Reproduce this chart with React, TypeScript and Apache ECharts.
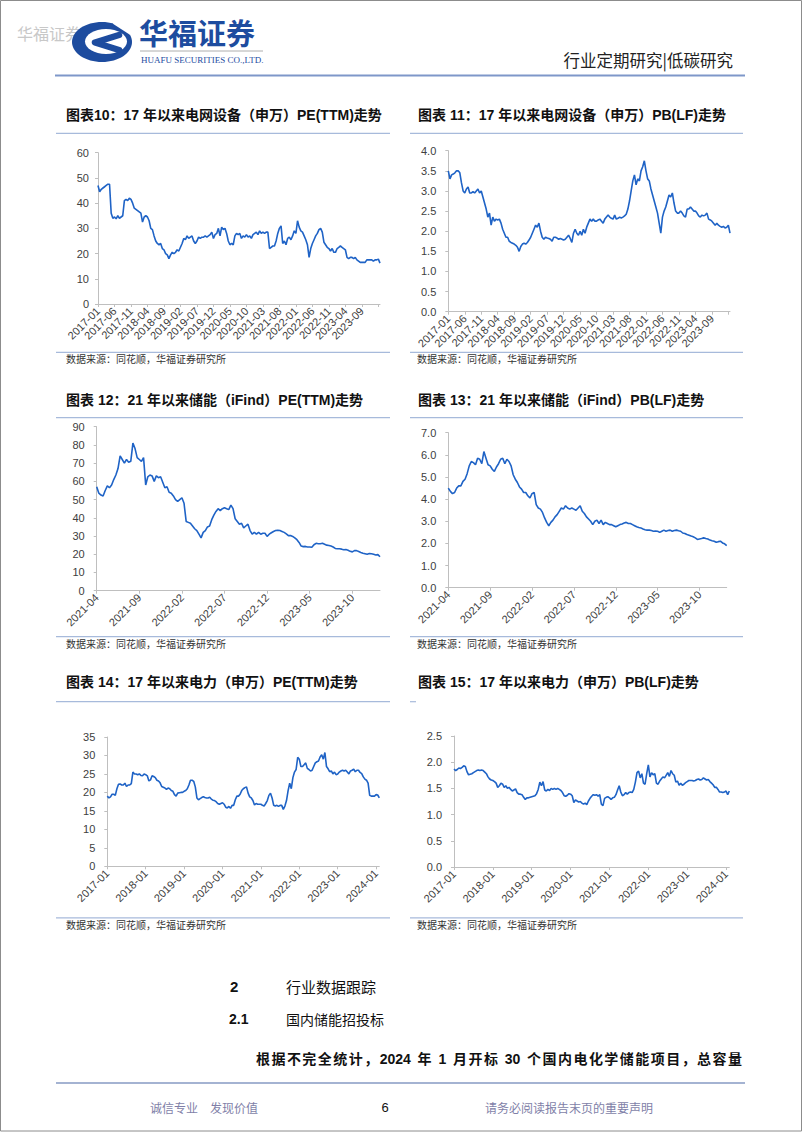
import React, { useEffect, useRef } from 'react';
import * as echarts from 'echarts';

// ---- tick labels ----
const TICKS_17_5M = ['2017-01','2017-06','2017-11','2018-04','2018-09','2019-02','2019-07','2019-12','2020-05','2020-10','2021-03','2021-08','2022-01','2022-06','2022-11','2023-04','2023-09'];
const TICKS_21_5M = ['2021-04','2021-09','2022-02','2022-07','2022-12','2023-05','2023-10'];
const TICKS_17_12M = ['2017-01','2018-01','2019-01','2020-01','2021-01','2022-01','2023-01','2024-01'];

// ---- series values (semi-monthly samples from 2017-01) ----
const GRID_EQUIP_PE = [
  47, 44.5, 45.5, 46, 46.5, 47, 47.5, 47.5,
  36, 34, 34.5, 33.8, 35, 34, 34.5, 35,
  41, 41.5, 41, 42, 41.5, 40, 38, 37.5,
  37, 36.5, 36, 32.5, 34.5, 35, 34.5, 33,
  30, 29.5, 27, 25, 24, 23.5, 24, 22,
  21.5, 20, 19.5, 18, 19.5, 20.5, 20, 20.5,
  21.5, 21, 22.5, 24, 26, 25.5, 27, 26,
  26.5, 27, 25, 24, 25, 26.5, 26, 26.5,
  26.5, 27, 26.5, 27, 27.5, 28.5, 26, 27.5,
  28, 30, 27, 30.5, 29.5, 30, 28, 25,
  23.5, 24, 23.5, 27, 28, 27.5, 28, 26,
  27, 26.5, 27.5, 26.5, 27, 26, 27.5, 28,
  28.5, 27.5, 29, 28, 28.5, 28, 28.5, 28.5,
  22, 22.5, 23, 23, 25, 28, 30, 31,
  24, 25, 23.5, 26, 26.5, 25.5, 27, 29,
  28, 33, 30.5, 29, 28.5, 27, 25.5, 23.5,
  18.5, 22, 24, 25.5, 27, 28, 29.5, 30,
  28.5, 24.5, 23.5, 22.5, 22, 21, 22, 20.5,
  20.5, 22, 22.5, 23, 22.5, 22, 21.5, 18.5,
  18, 18.5, 18.5, 18, 18.5, 17.5, 17, 16.5,
  16.5, 16.5, 16.5, 17.5, 17.5, 17.5, 17.5, 17,
  17.5, 17.5, 17.8, 16.2,
];

const GRID_EQUIP_PB = [
  3.5, 3.3, 3.4, 3.42, 3.45, 3.5, 3.5, 3.45,
  3.2, 3.0, 2.95, 3.05, 3.1, 2.95, 2.95, 2.98,
  2.95, 3.0, 3.05, 2.95, 3.0, 2.85, 2.7, 2.55,
  2.35, 2.45, 2.15, 2.35, 2.25, 2.3, 2.28, 2.3,
  2.2, 2.05, 1.95, 1.85, 1.85, 1.75, 1.72, 1.7,
  1.68, 1.65, 1.6, 1.5, 1.62, 1.68, 1.7, 1.68,
  1.72, 1.78, 1.85, 1.95, 2.05, 2.15, 2.1, 2.2,
  2.0, 1.85, 1.8, 1.85, 1.83, 1.82, 1.8, 1.75,
  1.85, 1.85, 1.83, 1.8, 1.82, 1.8, 1.78, 1.8,
  1.85, 1.9, 1.82, 1.72, 1.95, 2.05, 1.95, 1.9,
  2.0, 1.9, 2.05, 1.95, 2.1, 2.2, 2.3, 2.25,
  2.3, 2.25, 2.25, 2.28, 2.3, 2.25, 2.2, 2.3,
  2.35, 2.4, 2.35, 2.32, 2.3, 2.4, 2.3, 2.32,
  2.35, 2.33, 2.35, 2.38, 2.42, 2.55, 2.75, 3.0,
  3.25, 3.4, 3.15, 3.3, 3.25, 3.5, 3.6, 3.75,
  3.5, 3.3, 3.25, 3.05, 2.9, 2.75, 2.6, 2.45,
  2.2, 1.95, 2.35, 2.5, 2.6, 2.75, 2.9, 2.85,
  2.95, 2.7, 2.5, 2.45, 2.45, 2.5, 2.45, 2.38,
  2.35, 2.55, 2.55, 2.6, 2.55, 2.5, 2.5, 2.45,
  2.38, 2.35, 2.4, 2.38, 2.4, 2.45, 2.3, 2.28,
  2.25, 2.2, 2.15, 2.2, 2.15, 2.12, 2.1, 2.12,
  2.08, 2.1, 2.15, 1.95,
];

// ---- storage (quarter-monthly samples from 2021-04) ----
const STORAGE_PE = [
  57, 53.5, 52.5, 52, 55, 57.5, 56.5, 58, 61, 63.5,
  67, 74, 72, 70, 72, 70.5, 71, 81, 78, 73,
  72, 71, 73, 58, 62.5, 63.5, 63, 60, 63, 62,
  62.5, 59.5, 56.5, 57, 54, 53.5, 52, 50, 49, 50,
  51, 48, 38, 37.5, 37, 35.5, 34, 33, 31, 29,
  32, 33, 35, 35.5, 39, 41.5, 43.5, 45, 44, 45,
  45.5, 45, 44.5, 47, 45, 39.5, 38, 36.5, 37, 34.5,
  35.5, 36.5, 33, 31, 32, 31, 32, 31, 31.5, 31.5,
  29.8, 31, 31.8, 32.5, 33, 33.2, 33, 32.5, 32, 31.2,
  30.2, 30.3, 29.8, 29, 28, 26.5, 24.5, 24.2, 24.3, 24,
  24, 23.8, 25.2, 26, 25.8, 25.8, 26, 25.5, 25, 24.8,
  24.5, 24, 23.2, 23, 23, 22.8, 22.5, 22.6, 22.2, 21.6,
  21.3, 22, 22, 21.5, 21, 20.6, 20.3, 20, 20.4, 20.3,
  20, 19.6, 19.8, 18.6,
];

const STORAGE_PB = [
  4.5, 4.35, 4.25, 4.3, 4.5, 4.6, 4.6, 4.8, 4.9, 5.15,
  5.5, 5.7, 5.65, 5.55, 5.85, 5.8, 5.6, 6.15, 5.85, 5.55,
  5.5, 5.35, 5.25, 5.45, 5.6, 5.8, 5.85, 5.6, 5.8, 5.7,
  5.5, 5.1, 4.9, 4.75, 4.55, 4.45, 4.3, 4.3, 4.15, 4.05,
  4.25, 4.3, 3.75, 3.6, 3.55, 3.4, 3.15, 2.95, 2.8, 2.95,
  3.05, 3.2, 3.3, 3.45, 3.6, 3.55, 3.7, 3.6, 3.55, 3.6,
  3.55, 3.5, 3.6, 3.7, 3.45, 3.35, 3.2, 3.1, 3.0, 2.85,
  3.0, 3.05, 2.9, 3.05, 2.85, 2.95, 2.9, 2.85, 2.85, 2.8,
  2.75, 2.8, 2.85, 2.88, 2.92, 2.95, 2.9, 2.9, 2.85, 2.8,
  2.75, 2.72, 2.7, 2.65, 2.62, 2.6, 2.6, 2.58, 2.55, 2.56,
  2.55, 2.5, 2.55, 2.6, 2.55, 2.58, 2.6, 2.55, 2.58, 2.6,
  2.57, 2.55, 2.47, 2.45, 2.4, 2.37, 2.33, 2.3, 2.25, 2.18,
  2.2, 2.22, 2.25, 2.22, 2.2, 2.15, 2.12, 2.1, 2.05, 2.08,
  2.1, 2.02, 1.98, 1.9,
];

// ---- power (semi-monthly samples from 2017-01) ----
const POWER_PE = [
  19, 18.5, 18.8, 19.5, 19.5, 19.2, 21, 22.2, 22.3, 22,
  22, 22.5, 21.6, 22, 22, 22.4, 25.5, 25, 25, 24.8,
  25, 24.6, 24.5, 25, 24.8, 24.5, 23.1, 23.4, 24.5, 24.3,
  24, 23.3, 23.1, 22.6, 21.6, 21.4, 21.2, 20.8, 21.2, 21,
  20.5, 20.3, 19.4, 19, 19.8, 19.9, 20, 20, 20.3, 20.5,
  21, 22, 23.3, 23.3, 23, 21.5, 18.5, 18, 18.3, 18.6,
  18.8, 18.6, 18.5, 18.5, 18.7, 18.2, 17.9, 17.8, 17.5, 17,
  16.8, 17, 17.2, 16.8, 16, 15.8, 16.2, 15.7, 16.5, 16.5,
  18, 19, 19, 19.5, 20.5, 21, 21.3, 21.5, 19.8, 18.8,
  18.5, 17.8, 16.6, 17, 16.8, 16.8, 16.8, 16.5, 16.3, 17,
  17.8, 19.2, 19.8, 18.5, 16.5, 16.3, 16.5, 16.2, 16.5, 16.5,
  15.4, 16.3, 17.8, 20.5, 22.5, 21, 24, 25.5, 26.2, 29.5,
  29, 27, 27, 27.5, 28, 26.5, 26.2, 25.8, 26, 27,
  28, 28.3, 28.5, 29.6, 30.2, 29, 30.8, 27, 26.4, 25.6,
  25.8, 25, 25.5, 24.8, 25, 25.5, 25.8, 26, 25.8, 26,
  25.5, 25, 25.8, 26, 26.3, 25.6, 26, 26, 25.4, 25.1,
  24.2, 23.6, 23.3, 22.5, 19.2, 19, 19, 19, 19.4, 19.3,
  18.5,
];

const POWER_PB = [
  1.87, 1.84, 1.86, 1.89, 1.88, 1.9, 1.93, 1.92, 1.82, 1.76,
  1.77, 1.78, 1.8, 1.82, 1.84, 1.85, 1.84, 1.85, 1.84, 1.81,
  1.78, 1.72, 1.68, 1.66, 1.65, 1.63, 1.6, 1.52, 1.55, 1.6,
  1.58, 1.52, 1.55, 1.5, 1.52, 1.48, 1.45, 1.47, 1.49, 1.42,
  1.39, 1.39, 1.38, 1.33, 1.29, 1.32, 1.32, 1.33, 1.34, 1.35,
  1.36, 1.4, 1.48, 1.62, 1.55, 1.63, 1.47, 1.45, 1.48, 1.46,
  1.5, 1.48, 1.5, 1.48, 1.5, 1.48, 1.46, 1.42, 1.36, 1.35,
  1.37, 1.4, 1.39, 1.36, 1.23, 1.28, 1.26, 1.24, 1.25, 1.22,
  1.2, 1.22, 1.19, 1.26, 1.31, 1.35, 1.38, 1.37, 1.38, 1.35,
  1.38, 1.2, 1.17, 1.31, 1.33, 1.34, 1.32, 1.29, 1.32, 1.33,
  1.38, 1.47, 1.55, 1.43, 1.36, 1.38, 1.42, 1.39, 1.42, 1.43,
  1.42, 1.48, 1.62, 1.8, 1.83, 1.7, 1.78, 1.6, 1.58, 1.78,
  1.95, 1.72, 1.8, 1.76, 1.78, 1.6, 1.58, 1.64, 1.68, 1.72,
  1.7, 1.75, 1.8, 1.73, 1.84, 1.78, 1.75, 1.62, 1.64, 1.56,
  1.6, 1.56, 1.58, 1.61, 1.63, 1.65, 1.65, 1.65, 1.64, 1.65,
  1.67, 1.68, 1.66, 1.67, 1.7, 1.68, 1.66, 1.67, 1.63, 1.6,
  1.57, 1.52, 1.52, 1.48, 1.43, 1.43, 1.42, 1.43, 1.45, 1.38,
  1.45,
];

// ---- texts ----
const TITLES = [
  '图表10：17 年以来电网设备（申万）PE(TTM)走势',
  '图表 11：17 年以来电网设备（申万）PB(LF)走势',
  '图表 12：21 年以来储能（iFind）PE(TTM)走势',
  '图表 13：21 年以来储能（iFind）PB(LF)走势',
  '图表 14：17 年以来电力（申万）PE(TTM)走势',
  '图表 15：17 年以来电力（申万）PB(LF)走势',
];
const SOURCE = '数据来源：同花顺，华福证券研究所';
const BODY_TOKENS = ['根','据','不','完','全','统','计','，','2024',' ','年',' ','1',' ','月','开','标',' ','30',' ','个','国','内','电','化','学','储','能','项','目','，','总','容','量'];

const LATIN = "'Liberation Sans', Arial, 'Noto Sans CJK SC', sans-serif";
const CJK = "'Noto Sans CJK SC', 'Liberation Sans', sans-serif";
const LINE_BLUE = '#1f63c6';
const RULE = '#a7badb';
const AXIS = '#bfbfbf';

type Panel = {
  data: number[]; step: number; xmax: number; interval: number; ticks: string[];
  ymax: number; yint: number; dec: number; ymargin: number;
  left: number; top: number; width: number; height: number;
};

const PANELS: Panel[] = [
  { data: GRID_EQUIP_PE, step: 0.5, xmax: 85.5, interval: 5, ticks: TICKS_17_5M, ymax: 60, yint: 10, dec: 0, ymargin: 9, left: 98, top: 152.7, width: 282, height: 151.3 },
  { data: GRID_EQUIP_PB, step: 0.5, xmax: 85.5, interval: 5, ticks: TICKS_17_5M, ymax: 4, yint: 0.5, dec: 1, ymargin: 12, left: 448.3, top: 150.7, width: 281.7, height: 161 },
  { data: STORAGE_PE, step: 0.25, xmax: 33.25, interval: 5, ticks: TICKS_21_5M, ymax: 90, yint: 10, dec: 0, ymargin: 12, left: 96.7, top: 426.7, width: 283.3, height: 164 },
  { data: STORAGE_PB, step: 0.25, xmax: 33.25, interval: 5, ticks: TICKS_21_5M, ymax: 7, yint: 1, dec: 1, ymargin: 12, left: 448.3, top: 432.7, width: 278.4, height: 155 },
  { data: POWER_PE, step: 0.5, xmax: 85, interval: 12, ticks: TICKS_17_12M, ymax: 35, yint: 5, dec: 0, ymargin: 12, left: 107.3, top: 737, width: 272, height: 129.3 },
  { data: POWER_PB, step: 0.5, xmax: 85, interval: 12, ticks: TICKS_17_12M, ymax: 2.5, yint: 0.5, dec: 1, ymargin: 12, left: 454, top: 736, width: 275.3, height: 131 },
];

function txt(text: string, x: number, y: number, size: number, fill: string, opts: any = {}) {
  const align = opts.align || 'left';
  return {
    type: 'text', x, y, silent: true,
    style: {
      text, fill, fontSize: size, fontFamily: opts.family || CJK,
      fontWeight: opts.weight || 'normal',
      textAlign: align, align, textVerticalAlign: 'middle', verticalAlign: 'middle',
    },
  };
}
function hline(x1: number, x2: number, y: number, stroke: string, w: number) {
  return { type: 'line', silent: true, shape: { x1, y1: y, x2, y2: y }, style: { stroke, lineWidth: w } };
}

// justified line: spread tokens between x0 and x1
function justified(tokens: string[], x0: number, x1: number, y: number, size: number, weight: string) {
  const out: any[] = [];
  let widths: number[] = tokens.map((t) => (t === ' ' ? size * 0.278 : /^[0-9]+$/.test(t) ? t.length * size * 0.556 : size));
  try {
    const ctx = document.createElement('canvas').getContext('2d');
    if (ctx) {
      ctx.font = `${weight} ${size}px 'Liberation Sans', 'Noto Sans CJK SC', sans-serif`;
      widths = tokens.map((t) => ctx.measureText(t).width);
    }
  } catch (e) { /* fall back to estimates */ }
  const total = widths.reduce((a, b) => a + b, 0);
  const gap = (x1 - x0 - total) / (tokens.length - 1);
  let x = x0;
  tokens.forEach((t, i) => {
    if (t !== ' ') out.push(txt(t, x, y, size, '#111111', { weight, family: LATIN }));
    x += widths[i] + gap;
  });
  return out;
}

function buildOption() {
  const grid: any[] = [];
  const xAxis: any[] = [];
  const yAxis: any[] = [];
  const series: any[] = [];
  PANELS.forEach((p, i) => {
    grid.push({ left: p.left, top: p.top, width: p.width, height: p.height, containLabel: false });
    xAxis.push({
      type: 'value', gridIndex: i, min: 0, max: p.xmax, interval: p.interval,
      splitLine: { show: false },
      axisLine: { show: true, onZero: false, lineStyle: { color: AXIS, width: 1 } },
      axisTick: { show: true, length: 3, lineStyle: { color: AXIS } },
      axisLabel: {
        rotate: 45, margin: 5, fontSize: 11, color: '#404040', fontFamily: LATIN,
        showMaxLabel: false,
        formatter: (v: number) => {
          const k = v / p.interval;
          if (Math.abs(k - Math.round(k)) > 1e-6) return '';
          return p.ticks[Math.round(k)] ?? '';
        },
      },
    });
    yAxis.push({
      type: 'value', gridIndex: i, min: 0, max: p.ymax, interval: p.yint,
      splitLine: { show: false },
      axisLine: { show: true, lineStyle: { color: AXIS, width: 1 } },
      axisTick: { show: true, length: 3, lineStyle: { color: AXIS } },
      axisLabel: {
        margin: p.ymargin, fontSize: 11, color: '#404040', fontFamily: LATIN,
        formatter: (v: number) => v.toFixed(p.dec),
      },
    });
    series.push({
      type: 'line', xAxisIndex: i, yAxisIndex: i, showSymbol: false, symbol: 'none',
      data: p.data.map((v, j) => [j * p.step, v]),
      lineStyle: { color: LINE_BLUE, width: 1.6 },
      itemStyle: { color: LINE_BLUE },
    });
  });

  const g: any[] = [];
  // page frame
  g.push({ type: 'rect', silent: true, shape: { x: 0.5, y: 0.5, width: 801, height: 1130.5 }, style: { fill: 'none', stroke: '#8c8c8c', lineWidth: 1 } });
  // header
  g.push(txt('华福证券', 17, 33, 16, '#c8c8c8'));
  g.push({ type: 'ellipse', silent: true, shape: { cx: 102, cy: 42, rx: 30, ry: 20 }, style: { fill: '#1d4c9f' } });
  g.push({ type: 'ellipse', silent: true, shape: { cx: 106, cy: 41.5, rx: 21, ry: 12.5 }, style: { fill: '#ffffff' } });
  g.push({ type: 'line', silent: true, shape: { x1: 114, y1: 22, x2: 131, y2: 33 }, style: { stroke: '#ffffff', lineWidth: 4 } });
  g.push({ type: 'polyline', silent: true, shape: { points: [[119, 35], [95, 42.5], [119, 50]] }, style: { stroke: '#1d4c9f', lineWidth: 6.5, fill: 'none', lineJoin: 'round', lineCap: 'round' } });
  g.push(txt('华福证券', 139, 32, 29, '#1d4c9f', { weight: 'bold' }));
  g.push(hline(140, 263, 51, '#9a9a9a', 0.8));
  g.push(txt('HUAFU SECURITIES CO.,LTD.', 141, 59.5, 9, '#1d4c9f', { family: "'Liberation Serif', serif" }));
  g.push(txt('行业定期研究|低碳研究', 733, 60, 16.5, '#222222', { align: 'right' }));
  g.push(hline(55, 745, 75.5, '#7e97c9', 2));

  // panel titles, rules, sources
  const cols = [
    { tx: 66, l: 56, r: 390, sx: 66 },
    { tx: 418, l: 410, r: 743, sx: 417 },
  ];
  const rows = [
    { ty: 115, rule: 133.3, src: 352.3, srcY: 358.5 },
    { ty: 400, rule: 417.7, src: 636.7, srcY: 643 },
    { ty: 681.7, rule: 701.7, src: 917.8, srcY: 924.5 },
  ];
  TITLES.forEach((t, i) => {
    const c = cols[i % 2];
    const r = rows[Math.floor(i / 2)];
    g.push(txt(t, c.tx, r.ty, 14, '#111111', { weight: 'bold', family: LATIN }));
    if (i === 5) g.push(hline(c.l, c.l + 6, r.rule, RULE, 1.2));
    else g.push(hline(c.l, c.r, r.rule, RULE, 1.2));
    g.push(hline(c.l, c.r, r.src, RULE, 1.2));
    g.push(txt(SOURCE, c.sx, r.srcY, 10, '#333333'));
  });

  // body
  g.push(txt('2', 230, 986, 15, '#111111', { weight: 'bold', family: LATIN }));
  g.push(txt('行业数据跟踪', 286, 986, 15, '#111111'));
  g.push(txt('2.1', 229, 1019, 14, '#111111', { weight: 'bold', family: LATIN }));
  g.push(txt('国内储能招投标', 286, 1019, 14, '#111111'));
  justified(BODY_TOKENS, 256, 742, 1059, 14, 'bold').forEach((e) => g.push(e));

  // footer
  g.push(hline(56, 745, 1083, '#4a68a5', 1.2));
  g.push(txt('诚信专业　发现价值', 150, 1107, 12, '#7f7fa8'));
  g.push(txt('6', 385, 1107, 13, '#111111', { family: LATIN, align: 'center' }));
  g.push(txt('请务必阅读报告末页的重要声明', 485, 1107, 12, '#7f7fa8'));

  return {
    animation: false,
    backgroundColor: '#ffffff',
    grid, xAxis, yAxis, series,
    graphic: { elements: g },
  };
}

export default function App() {
  const ref = useRef<HTMLDivElement>(null);
  useEffect(() => {
    if (!ref.current) return;
    const chart = echarts.init(ref.current, undefined, { renderer: 'svg' });
    chart.setOption(buildOption() as any);
    return () => chart.dispose();
  }, []);
  return (
    <div
      ref={ref}
      style={{ position: 'absolute', left: 0, top: 0, width: 802, height: 1133, background: '#fff' }}
    />
  );
}
